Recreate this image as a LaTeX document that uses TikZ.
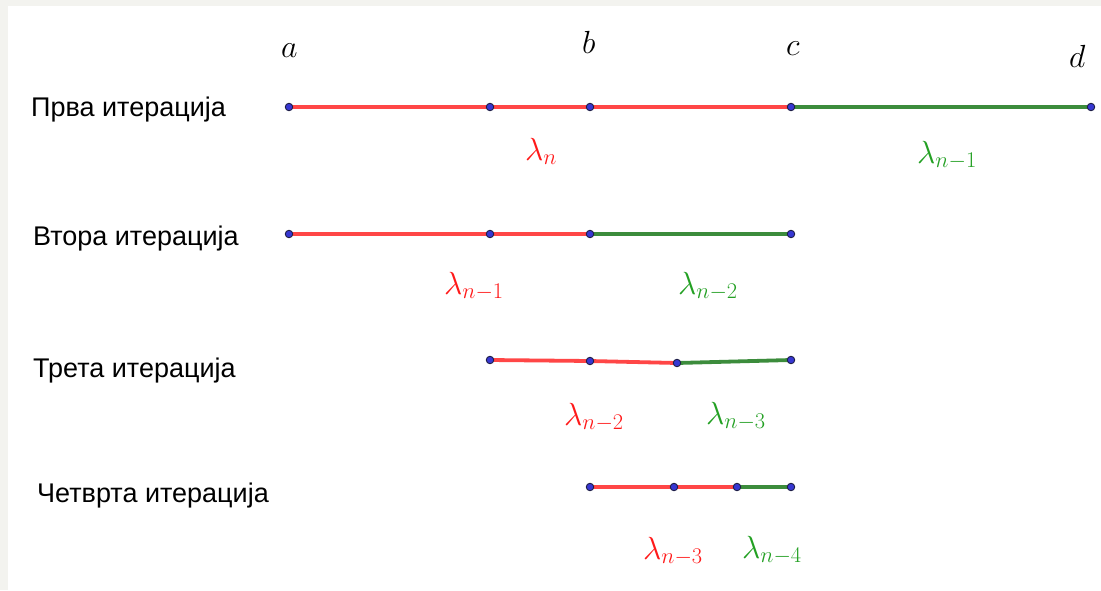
\RequirePackage{fix-cm}
\documentclass[tikz,border=0pt]{standalone}
\usepackage{fontspec}
\newfontfamily\cyr{Liberation Sans}
\usetikzlibrary{backgrounds}
\definecolor{segred}{RGB}{255,70,70}
\definecolor{seggreen}{RGB}{60,140,60}
\definecolor{labred}{RGB}{255,25,25}
\definecolor{labgreen}{RGB}{35,160,35}
\definecolor{dotblue}{RGB}{55,55,210}
\definecolor{dotrim}{RGB}{30,30,70}
\definecolor{edge}{RGB}{243,243,239}
\tikzset{
  pt/.style={circle,fill=dotblue,draw=dotrim,line width=0.9pt,inner sep=0pt,minimum size=7.5pt},
  redseg/.style={draw=segred,line width=3.8pt},
  greenseg/.style={draw=seggreen,line width=3.8pt},
  rowlabel/.style={anchor=base west,inner sep=0pt,font=\cyr\fontsize{27}{30}\selectfont},
  mlab/.style={anchor=base west,inner sep=0pt,font=\fontsize{32}{35}\selectfont},
  lamred/.style={mlab,text=labred},
  lamgreen/.style={mlab,text=labgreen}
}
\begin{document}
\begin{tikzpicture}[x=1pt,y=-1pt]
\useasboundingbox (0,0) rectangle (1101,590);
% row 1
\node[pt] (r1a) at (289,107) {};
\node[pt] (r1b) at (490,107) {};
\node[pt] (r1c) at (590,107) {};
\node[pt] (r1d) at (791,107) {};
\node[pt] (r1e) at (1091,107) {};
% row 2
\node[pt] (r2a) at (289,234) {};
\node[pt] (r2b) at (490,234) {};
\node[pt] (r2c) at (590,234) {};
\node[pt] (r2d) at (791,234) {};
% row 3
\node[pt] (r3a) at (490,360) {};
\node[pt] (r3b) at (590,361) {};
\node[pt] (r3c) at (677,363) {};
\node[pt] (r3d) at (791,360) {};
% row 4
\node[pt] (r4a) at (590,487) {};
\node[pt] (r4b) at (674,487) {};
\node[pt] (r4c) at (737,487) {};
\node[pt] (r4d) at (791,487) {};
\begin{scope}[on background layer]
\fill[edge] (0,0) rectangle (1101,590);
\fill[white] (8,6) rectangle (1101,590);
\draw[redseg] (r1a.center) -- (r1b.center) -- (r1c.center) -- (r1d.center);
\draw[greenseg] (r1d.center) -- (r1e.center);
\draw[redseg] (r2a.center) -- (r2b.center) -- (r2c.center);
\draw[greenseg] (r2c.center) -- (r2d.center);
\draw[redseg] (r3a.center) -- (r3b.center) -- (r3c.center);
\draw[greenseg] (r3c.center) -- (r3d.center);
\draw[redseg] (r4a.center) -- (r4b.center) -- (r4c.center);
\draw[greenseg] (r4c.center) -- (r4d.center);
\end{scope}
% point letters
\node[mlab] (la) at (281,57) {$a$};
\node[mlab] (lb) at (582,53) {$b$};
\node[mlab] (lc) at (786,55) {$c$};
\node[mlab] (ld) at (1069,67) {$d$};
% row labels
\node[rowlabel] (t1) at (31,116) {Прва итерација};
\node[rowlabel] (t2) at (33,245) {Втора итерација};
\node[rowlabel] (t3) at (33,377) {Трета итерација};
\node[rowlabel] (t4) at (37,502) {Четврта итерација};
% lambda labels
\node[lamred] (l1r) at (525,160) {$\lambda_n$};
\node[lamgreen] (l1g) at (917,163) {$\lambda_{n-1}$};
\node[lamred] (l2r) at (444,294) {$\lambda_{n-1}$};
\node[lamgreen] (l2g) at (678,294) {$\lambda_{n-2}$};
\node[lamred] (l3r) at (564,425) {$\lambda_{n-2}$};
\node[lamgreen] (l3g) at (706,424) {$\lambda_{n-3}$};
\node[lamred] (l4r) at (643,559) {$\lambda_{n-3}$};
\node[lamgreen] (l4g) at (742,558) {$\lambda_{n-4}$};
\end{tikzpicture}
\end{document}
